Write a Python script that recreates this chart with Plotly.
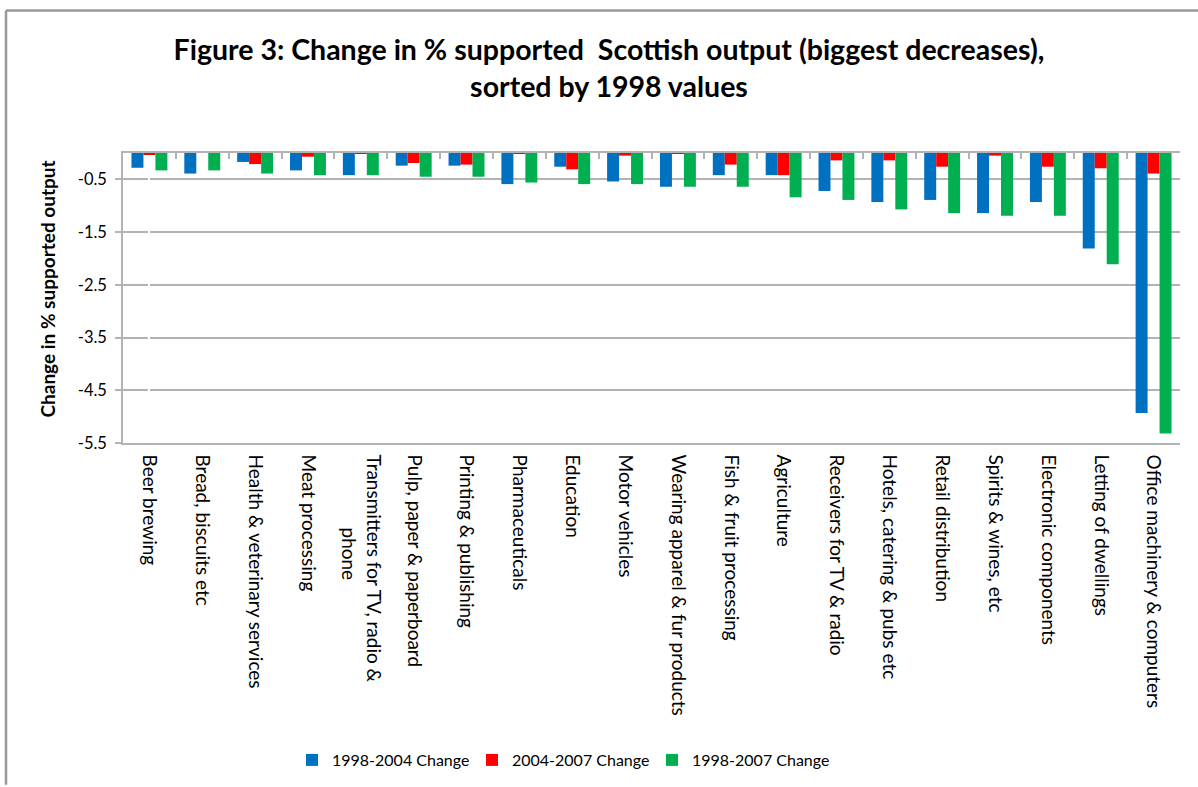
import plotly.graph_objects as go

categories = [
    "Beer brewing", "Bread, biscuits etc", "Health & veterinary services",
    "Meat processing", "Transmitters for TV, radio &<br>" + "\u00a0" * 15 + "phone",
    "Pulp, paper & paperboard", "Printing & publishing", "Pharmaceuticals",
    "Education", "Motor vehicles", "Wearing apparel & fur products",
    "Fish & fruit processing", "Agriculture", "Receivers for TV & radio",
    "Hotels, catering & pubs etc", "Retail distribution", "Spirits & wines, etc",
    "Electronic components", "Letting of dwellings", "Office machinery & computers",
]
change_1998_2004 = [-0.28, -0.39, -0.17, -0.33, -0.42, -0.24, -0.24, -0.59, -0.26, -0.54,
                    -0.64, -0.42, -0.42, -0.72, -0.93, -0.89, -1.14, -0.93, -1.81, -4.93]
change_2004_2007 = [-0.02, 0.05, -0.21, -0.07, -0.01, -0.19, -0.22, -0.01, -0.31, -0.05,
                    -0.01, -0.22, -0.42, -0.14, -0.14, -0.26, -0.05, -0.26, -0.29, -0.39]
change_1998_2007 = [-0.33, -0.33, -0.39, -0.42, -0.42, -0.45, -0.45, -0.56, -0.59, -0.59,
                    -0.64, -0.64, -0.84, -0.89, -1.07, -1.14, -1.19, -1.19, -2.11, -5.32]
series_names = ["1998-2004 Change", "2004-2007 Change", "1998-2007 Change"]
series_colors = ["#0070C0", "#FF0000", "#00B050"]
y_ticks = [-0.5, -1.5, -2.5, -3.5, -4.5, -5.5]

FONT = "Lato"
GRID = "#B3B3B3"

fig = go.Figure()
for name, vals, col in zip(series_names, [change_1998_2004, change_2004_2007, change_1998_2007], series_colors):
    fig.add_trace(go.Bar(x=categories, y=vals, name=name, marker=dict(color=col, line=dict(width=0))))

# dummy trace to activate the top axis (category boundary ticks)
fig.add_trace(go.Scatter(x=[], y=[], xaxis="x2", showlegend=False, hoverinfo="skip"))

n = len(categories)
W, H = 1198, 787
L, R, T, B = 123, 18, 153, 343
pw, ph = W - L - R, H - T - B

def px_x(x):
    return (x - L) / pw

def px_y(y):
    return (H - B - y) / ph

fig.update_layout(
    width=W, height=H,
    margin=dict(l=L, r=R, t=T, b=B),
    paper_bgcolor="white", plot_bgcolor="white",
    barmode="group", bargap=0.32, bargroupgap=0,
    font=dict(family=FONT, color="black"),
    title=dict(
        text="<b>Figure 3: Change in % supported  Scottish output (biggest decreases),<br>sorted by 1998 values</b>",
        x=609 / W, xref="container", xanchor="center",
        y=1 - 60 / H, yref="container", yanchor="middle",
        font=dict(family=FONT, size=28.5, color="black"),
    ),
    xaxis=dict(
        type="category", tickangle=90, showgrid=False, showline=True, linecolor=GRID, linewidth=1.5,
        ticks="", ticklabelstandoff=6, tickfont=dict(family=FONT, size=19, color="black"),
        range=[-0.5, n - 0.5],
    ),
    xaxis2=dict(
        overlaying="x", side="top", range=[-0.5, n - 0.5], showgrid=False,
        showline=True, linecolor=GRID, linewidth=2,
        tickmode="array", tickvals=[i - 0.5 for i in range(n + 1)],
        ticks="inside", ticklen=6, tickcolor=GRID, tickwidth=1.5, showticklabels=False,
    ),
    yaxis=dict(
        range=[-5.5, 0], tickmode="array", tickvals=y_ticks,
        ticktext=[str(v) for v in y_ticks],
        showgrid=True, gridcolor=GRID, gridwidth=1.5, zeroline=False,
        showline=True, linecolor=GRID, linewidth=1.5,
        ticks="outside", ticklen=6, tickcolor=GRID, tickwidth=1.5,
        ticklabelstandoff=5,
        tickfont=dict(family=FONT, size=16.5, color="black"),
    ),
    legend=dict(
        orientation="h", x=px_x(562), y=px_y(760), xanchor="center", yanchor="middle",
        font=dict(family=FONT, size=16, color="black"), itemwidth=30, traceorder="normal",
        entrywidth=135, entrywidthmode="pixels",
    ),
    annotations=[dict(
        text="<b>Change in % supported output</b>", textangle=-90,
        x=px_x(48), y=px_y(290), xref="paper", yref="paper", xanchor="center", yanchor="middle",
        showarrow=False, font=dict(family=FONT, size=19, color="black"),
    )],
    shapes=[
        dict(type="line", xref="paper", yref="paper", x0=px_x(6), x1=px_x(1198), y0=px_y(10), y1=px_y(10),
             line=dict(color="#999999", width=2.5)),
        dict(type="line", xref="paper", yref="paper", x0=px_x(6), x1=px_x(6), y0=px_y(10), y1=px_y(787),
             line=dict(color="#999999", width=2.5)),
    ],
)

fig.write_html("out.html", config={"displayModeBar": False},
               post_script="document.body.style.margin='0';")
